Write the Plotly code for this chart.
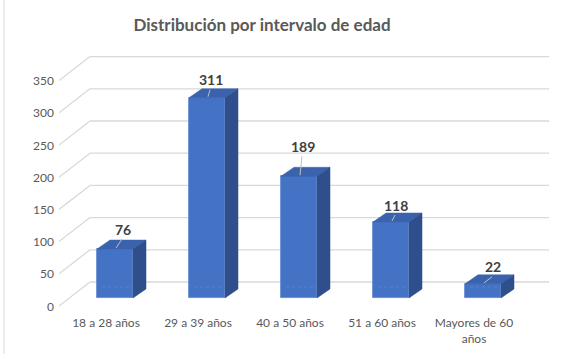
import plotly.graph_objects as go

# ---- data ----
categories = ["18 a 28 años", "29 a 39 años", "40 a 50 años", "51 a 60 años", "Mayores de 60 años"]
cat_labels = ["18 a 28 años", "29 a 39 años", "40 a 50 años", "51 a 60 años", "Mayores de 60<br>años"]
values = [76, 311, 189, 118, 22]
y_ticks = [0, 50, 100, 150, 200, 250, 300, 350]
title_text = "Distribución por intervalo de edad"

# ---- layout geometry (style) ----
W, H = 580, 354
ML, MR, MT, MB = 59, 20, 40, 42
plot_w, plot_h = W - ML - MR, H - MT - MB
PX_PER_CAT, PX_PER_VAL = 92.0, 0.644
ZERO_PX = 298                     # pixel row of value 0 on the bar plane
XR = [-(115 - ML) / PX_PER_CAT, -(115 - ML) / PX_PER_CAT + plot_w / PX_PER_CAT]
YR = [-((H - MB) - ZERO_PX) / PX_PER_VAL, -((H - MB) - ZERO_PX) / PX_PER_VAL + plot_h / PX_PER_VAL]
kx = plot_w / (XR[1] - XR[0])   # px per x unit
ky = plot_h / (YR[1] - YR[0])   # px per y unit


def dxu(px):
    return px / kx


def dyu(px):
    return px / ky  # positive px = upward


BAR_W = 36 / kx
DEPTH_X, DEPTH_Y = 13, 9          # bar depth offset (px right, px up)
BACK_UP = 16                      # back wall above bar plane (px)
FRONT_DOWN = 8                    # front edge below bar plane (px)
FRONT_X = XR[0]
WALL_X0, WALL_X1 = FRONT_X + dxu(31), FRONT_X + dxu(490)

FRONT_C = "#4472C4"
TOP_C = "#3B63AD"
SIDE_C = "#2F4E8C"
GRID_C = "#D9D9D9"
TXT_C = "#595959"
FONT = "Lato"

fig = go.Figure()

# front faces of bars
fig.add_trace(go.Bar(
    x=list(range(len(values))), y=values, width=BAR_W,
    marker=dict(color=FRONT_C, line=dict(color="#5B86D0", width=0.8)),
    hoverinfo="skip", showlegend=False,
))

# top and side faces computed from the same values
for i, v in enumerate(values):
    xl, xr = i - BAR_W / 2, i + BAR_W / 2
    ddx, ddy = dxu(DEPTH_X), dyu(DEPTH_Y)
    fig.add_trace(go.Scatter(
        x=[xl, xr, xr + ddx, xl + ddx, xl], y=[v, v, v + ddy, v + ddy, v],
        mode="lines", fill="toself", fillcolor=TOP_C,
        line=dict(color=TOP_C, width=0.5), hoverinfo="skip", showlegend=False))
    fig.add_trace(go.Scatter(
        x=[xr, xr + ddx, xr + ddx, xr, xr], y=[v, v + ddy, ddy, 0, v],
        mode="lines", fill="toself", fillcolor=SIDE_C,
        line=dict(color=SIDE_C, width=0.5), hoverinfo="skip", showlegend=False))
    # faint dotted floor line seen through the bar
    fig.add_trace(go.Scatter(
        x=[xl + dxu(5), xr - dxu(3)], y=[dyu(11), dyu(11)], mode="lines",
        line=dict(color="#5A80C9", width=1, dash="dot"), hoverinfo="skip", showlegend=False))

shapes = []
annotations = []
# back wall gridlines, left-wall diagonals and y tick labels
for t in y_ticks:
    yb = t + dyu(BACK_UP)
    yf = t - dyu(FRONT_DOWN)
    shapes.append(dict(type="line", xref="x", yref="y", x0=WALL_X0, x1=WALL_X1,
                       y0=yb, y1=yb, line=dict(color=GRID_C, width=1.3), layer="below"))
    shapes.append(dict(type="line", xref="x", yref="y", x0=FRONT_X, x1=WALL_X0,
                       y0=yf, y1=yb, line=dict(color=GRID_C, width=1.3), layer="below"))
    annotations.append(dict(x=(56 - ML) / plot_w, y=yf, xref="paper", yref="y",
                            xanchor="right", yanchor="middle", text=str(t), showarrow=False,
                            font=dict(family=FONT, size=12, color=TXT_C)))

# chart border on left
shapes.append(dict(type="line", xref="paper", yref="paper",
                   x0=(4 - ML) / plot_w, x1=(4 - ML) / plot_w,
                   y0=-MB / plot_h, y1=(plot_h + MT) / plot_h,
                   line=dict(color="#D9D9D9", width=1)))

# data labels with leader lines
label_dx = [8, 4, 4, 5, 10]      # px
label_dy = [20, 18, 30, 17, 17]  # px above bar top
for i, v in enumerate(values):
    lx = i + dxu(label_dx[i])
    ly = v + dyu(label_dy[i])
    annotations.append(dict(x=lx, y=ly, xref="x", yref="y", text=f"<b>{v}</b>",
                            showarrow=False, font=dict(family=FONT, size=14, color="#404040")))
    shapes.append(dict(type="line", xref="x", yref="y",
                       x0=i + dxu(1), y0=v + dyu(1),
                       x1=lx - dxu(1), y1=ly - dyu(10),
                       line=dict(color="#BFBFBF", width=1)))

fig.update_layout(
    width=W, height=H, margin=dict(l=ML, r=MR, t=MT, b=MB, autoexpand=False),
    paper_bgcolor="white", plot_bgcolor="rgba(0,0,0,0)",
    title=dict(text=f"<b>{title_text}</b>", x=262 / W, y=1 - 25 / H, xref="container", yref="container",
               xanchor="center", yanchor="middle",
               font=dict(family=FONT, size=17, color=TXT_C)),
    shapes=shapes, annotations=annotations,
    xaxis=dict(range=XR, tickmode="array", tickvals=list(range(len(values))), ticktext=cat_labels,
               showgrid=False, zeroline=False, showline=False, ticks="", automargin=False,
               tickfont=dict(family=FONT, size=12, color=TXT_C),
               ticklabelshift=-9, ticklabelstandoff=2, fixedrange=True),
    yaxis=dict(range=YR, showticklabels=False,
               showgrid=False, zeroline=False, showline=False, ticks="", automargin=False,
               fixedrange=True),
    bargap=0,
)

fig.write_html("out.html")
